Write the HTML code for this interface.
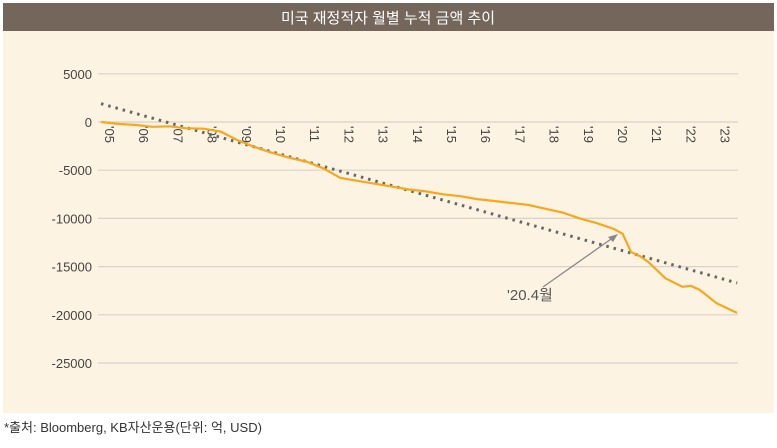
<!DOCTYPE html>
<html><head><meta charset="utf-8"><style>
body{margin:0;width:777px;height:443px;background:#fff;font-family:"Liberation Sans","Noto Sans CJK KR",sans-serif;overflow:hidden}
</style></head><body>
<svg width="777" height="443" xmlns="http://www.w3.org/2000/svg">
<rect x="3" y="31" width="771" height="382" fill="#fdf3e3"/>
<rect x="3" y="3" width="771" height="28" fill="#74665a"/>
<text x="388" y="23" text-anchor="middle" fill="#fff" font-size="15" font-family="Liberation Sans,Noto Sans CJK KR,sans-serif">미국 재정적자 월별 누적 금액 추이</text>
<g id="grid"></g><g id="xt"></g>
<path id="trend" fill="none" stroke="#666" stroke-width="3" stroke-dasharray="2.5 5"/>
<path id="line" fill="none" stroke="#f5a81c" stroke-width="2.2"/>
<line x1="543" y1="287" x2="614" y2="237" stroke="#888" stroke-width="1.3"/>
<path d="M618,234 L608,237 L613,242 Z" fill="#888"/>
<text x="507" y="300" font-size="15" fill="#555">'20.4월</text>
<text x="4" y="432" font-size="13" fill="#333">*출처: Bloomberg, KB자산운용(단위: 억, USD)</text>
</svg>
<script>
const yTicks=[5000,0,-5000,-10000,-15000,-20000,-25000];
const yTickLabels=["5000","0","-5000","-10000","-15000","-20000","-25000"];
const xTickLabels=["'05","'06","'07","'08","'09","'10","'11","'12","'13","'14","'15","'16","'17","'18","'19","'20","'21","'22","'23"];
const years=[2005,2005.5,2006,2006.5,2007,2007.5,2008,2008.5,2009,2009.5,2010,2010.5,2011,2011.5,2012,2012.5,2013,2013.5,2014,2014.5,2015,2015.5,2016,2016.5,2017,2017.5,2018,2018.5,2019,2019.5,2020,2020.25,2020.5,2020.75,2021,2021.5,2022,2022.25,2022.5,2023,2023.3,2023.6];
const values=[0,-200,-300,-500,-450,-650,-700,-1000,-1900,-2600,-3200,-3700,-4100,-4800,-5800,-6100,-6400,-6700,-7000,-7200,-7500,-7700,-8000,-8200,-8400,-8600,-9000,-9400,-10000,-10500,-11100,-11600,-13500,-13900,-14500,-16200,-17100,-17000,-17400,-18800,-19300,-19800];
const trendYears=[2005,2023.6];
const trendValues=[1900,-16700];
const X=y=>101+(y-2005)*34.2, Y=v=>122-v/5000*48.2;
const ns="http://www.w3.org/2000/svg";
const g=document.getElementById('grid');
yTicks.forEach((t,i)=>{
 const l=document.createElementNS(ns,'line');
 l.setAttribute('x1',98);l.setAttribute('x2',738);l.setAttribute('y1',Y(t));l.setAttribute('y2',Y(t));
 l.setAttribute('stroke','#d9d2c8');l.setAttribute('stroke-width','1.2');
 
 
 g.appendChild(l);
 const tx=document.createElementNS(ns,'text');
 tx.setAttribute('x',92);tx.setAttribute('y',Y(t)+5);tx.setAttribute('text-anchor','end');
 tx.setAttribute('font-size','13');tx.setAttribute('fill','#444');tx.textContent=yTickLabels[i];
 
 
 g.appendChild(tx);
});
const xt=document.getElementById('xt');
xTickLabels.forEach((s,i)=>{
 const tx=document.createElementNS(ns,'text');
 const x=X(2005+i)+4, y=126;
 tx.setAttribute('x',x);tx.setAttribute('y',y);tx.setAttribute('font-size','13');tx.setAttribute('fill','#444');
 tx.setAttribute('transform',`rotate(90 ${x} ${y})`);tx.textContent=s;
 
 
 xt.appendChild(tx);
});
document.getElementById('line').setAttribute('d',years.map((y,i)=>(i?'L':'M')+X(y).toFixed(1)+','+Y(values[i]).toFixed(1)).join(' '));
document.getElementById('trend').setAttribute('d',trendYears.map((y,i)=>(i?'L':'M')+X(y)+','+Y(trendValues[i])).join(' '));
</script>
</body></html>
